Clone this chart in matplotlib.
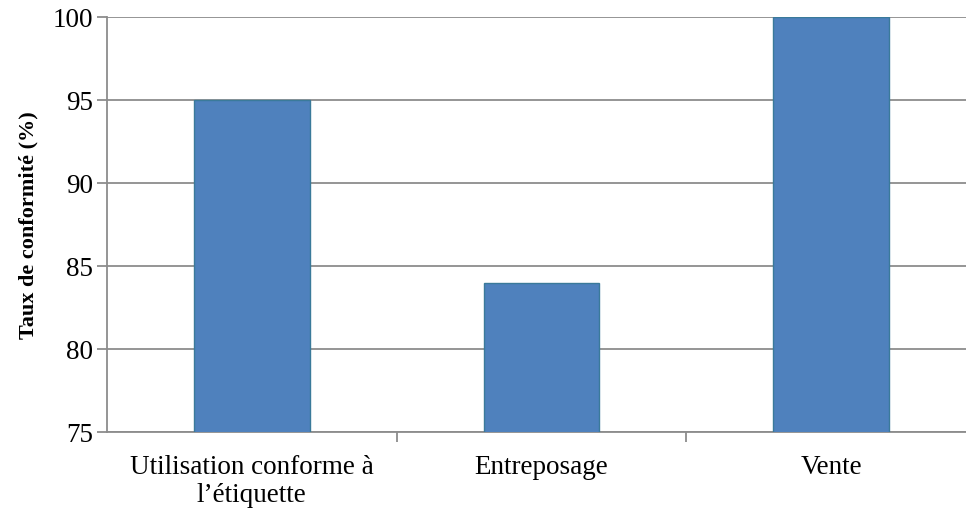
import matplotlib.pyplot as plt

categories = ["Utilisation conforme à\nl\u2019étiquette", "Entreposage", "Vente"]
taux = [95, 84, 100]
yticks = [75, 80, 85, 90, 95, 100]

plt.rcParams['font.family'] = ['Liberation Serif', 'DejaVu Serif']

fig = plt.figure(figsize=(9.66, 5.10), dpi=100)
ax = fig.add_axes([107 / 966, 77 / 510, 869 / 966, 415 / 510])

x = range(len(categories))
ax.bar(x, taux, width=0.40, bottom=0, color='#4F81BD', edgecolor='#3A7A9A',
       linewidth=1.0, zorder=3)

ax.set_ylim(75, 100)
ax.set_xlim(-0.5, len(categories) - 0.5)
ax.set_yticks(yticks)
ax.set_yticklabels([str(v) for v in yticks], fontsize=19.5)

# category labels centred, ticks on the category boundaries
ax.set_xticks([0.5, 1.5], minor=False)
ax.set_xticklabels([])
ax.set_xticks(list(x), minor=True)
ax.set_xticklabels(categories, minor=True, fontsize=19.5, linespacing=1.15)
ax.tick_params(axis='x', which='minor', length=0, pad=16)
ax.tick_params(axis='x', which='major', length=7, color='#8C8C8C', width=1.3)
ax.tick_params(axis='y', length=7, color='#8C8C8C', width=1.3, pad=3)

ax.grid(axis='y', color='#8C8C8C', linewidth=1.3, zorder=0)
for side in ['top', 'right']:
    ax.spines[side].set_visible(False)
for side in ['left', 'bottom']:
    ax.spines[side].set_color('#8C8C8C')
    ax.spines[side].set_linewidth(1.3)

ax.set_ylabel('Taux de conformité (%)', fontsize=16, fontweight='bold', labelpad=10)

fig.savefig('out.png', dpi=100)
